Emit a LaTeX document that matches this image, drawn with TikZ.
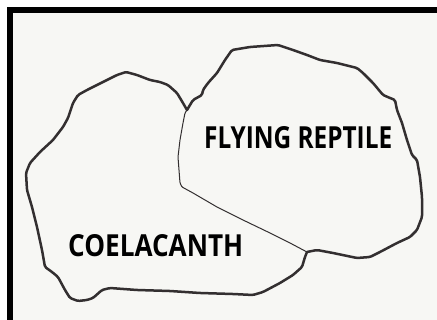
\documentclass[tikz,border=0pt]{standalone}
\usepackage{fontspec}
\usepackage{graphicx}
\setmainfont{Open Sans}
\definecolor{paper}{HTML}{F7F7F4}
\definecolor{ink}{HTML}{332F30}
\tikzset{
  outline/.style={draw=ink, line width=2.5pt, line join=round, line cap=round, rounded corners=1.5pt},
  innerline/.style={draw=ink, line width=1pt, line join=round, line cap=round, rounded corners=1pt},
  label/.style={anchor=base west, inner sep=0pt, text=black}
}
\begin{document}
\begin{tikzpicture}[x=1pt,y=-1pt]
\useasboundingbox (0,0) rectangle (437,320);
\fill[white] (0,0) rectangle (437,320);
\fill[paper] (7,7) rectangle (437,320);
\fill[black] (7,7) rectangle (437,13);
\fill[black] (7,7) rectangle (13,320);
% left blob (coelacanth)
\draw[outline] (187,110) -- (183,103) -- (177,93) -- (168,85) -- (160,82) -- (150,80) -- (137,75) -- (126,72)
  -- (117,75) -- (103,82) -- (87,90) -- (78,95) -- (73,103) -- (68,118) -- (63,127) -- (53,140) -- (40,152)
  -- (30,163) -- (26,173) -- (27,190) -- (32,207) -- (37,227) -- (42,250) -- (45,267) -- (52,272) -- (58,277)
  -- (65,290) -- (70,298) -- (78,301) -- (87,300) -- (93,298) -- (102,290) -- (110,288) -- (137,290)
  -- (170,291) -- (200,293) -- (233,294) -- (253,295) -- (263,292) -- (280,283) -- (293,275) -- (302,267)
  -- (305,257) -- (307,252);
% right blob (flying reptile)
\draw[outline] (187,110) -- (193,100) -- (202,95) -- (203,90) -- (208,83) -- (217,73) -- (225,60) -- (232,50)
  -- (250,47) -- (278,45) -- (293,50) -- (307,55) -- (320,60) -- (337,63) -- (357,68) -- (363,73) -- (373,83)
  -- (383,95) -- (390,98) -- (395,100) -- (397,110) -- (402,123) -- (407,140) -- (412,155) -- (417,160)
  -- (420,177) -- (422,197) -- (422,217) -- (417,230) -- (410,237) -- (397,243) -- (380,252) -- (370,257)
  -- (357,258) -- (333,253) -- (317,250) -- (307,252);
% dividing line
\draw[innerline] (187,110) -- (185,113) -- (183,123) -- (180,140) -- (178,157) -- (180,183) -- (182,187)
  -- (193,193) -- (217,207) -- (243,220) -- (270,233) -- (290,243) -- (307,252);
\node[label] (coel) at (68,257) {\resizebox{175pt}{22pt}{\bfseries COELACANTH}};
\node[label] (reptile) at (204,149) {\resizebox{188pt}{22pt}{\bfseries FLYING REPTILE}};
\end{tikzpicture}
\end{document}
